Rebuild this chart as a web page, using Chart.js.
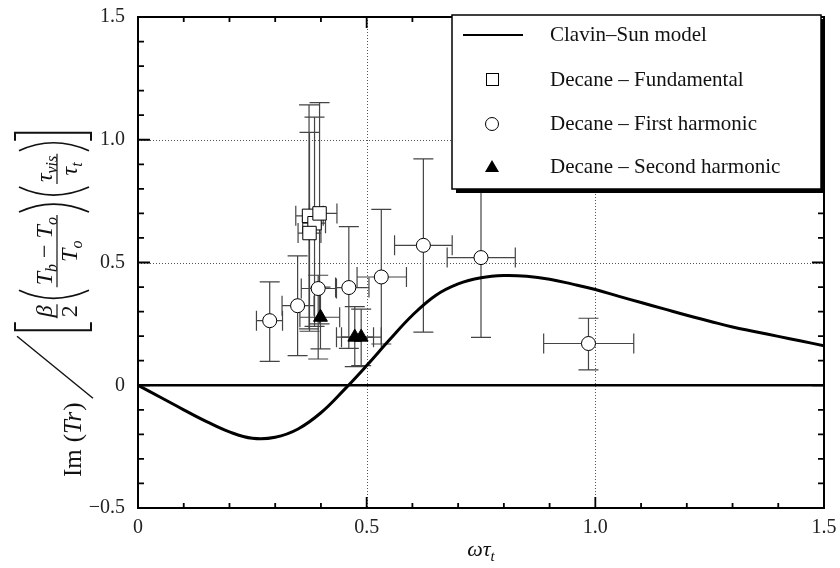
<!DOCTYPE html>
<html><head><meta charset="utf-8">
<script src="https://cdn.jsdelivr.net/npm/chart.js@4.4.1/dist/chart.umd.min.js"></script>
<style>html,body{margin:0;padding:0;background:#fff}</style>
</head><body>
<canvas id="c" width="840" height="568"></canvas>
<script>
// ---- Data ----
const xTickLabels = ['0', '0.5', '1.0', '1.5'];
const yTickLabels = ['\u22120.5', '0', '0.5', '1.0', '1.5'];

const curveX = [0, 0.05, 0.1, 0.15, 0.2, 0.25, 0.3, 0.35, 0.4, 0.45, 0.5, 0.55, 0.6, 0.65, 0.7, 0.75, 0.8, 0.85, 0.9, 0.95, 1.0, 1.05, 1.1, 1.15, 1.2, 1.25, 1.3, 1.35, 1.4, 1.45, 1.5];
const curveY = [0, -0.05, -0.10, -0.148, -0.19, -0.216, -0.212, -0.178, -0.112, -0.02, 0.08, 0.185, 0.285, 0.365, 0.413, 0.438, 0.447, 0.444, 0.432, 0.412, 0.39, 0.363, 0.337, 0.311, 0.285, 0.261, 0.237, 0.218, 0.199, 0.18, 0.161];

const zeroX = [0, 1.5];
const zeroY = [0, 0];

const fundX   = [0.374, 0.386, 0.397, 0.375];
const fundY   = [0.690, 0.660, 0.700, 0.620];
const fundXLo = [0.345, 0.360, 0.375, 0.350];
const fundXHi = [0.405, 0.410, 0.435, 0.400];
const fundYLo = [0.230, 0.240, 0.250, 0.220];
const fundYHi = [1.142, 1.092, 1.151, 1.030];

const firstX   = [0.288, 0.349, 0.394, 0.461, 0.532, 0.624, 0.750, 0.985];
const firstY   = [0.263, 0.324, 0.394, 0.398, 0.441, 0.570, 0.520, 0.170];
const firstXLo = [0.259, 0.315, 0.357, 0.432, 0.479, 0.561, 0.676, 0.887];
const firstXHi = [0.316, 0.385, 0.434, 0.505, 0.587, 0.687, 0.825, 1.084];
const firstYLo = [0.097, 0.121, 0.107, 0.150, 0.168, 0.216, 0.195, 0.063];
const firstYHi = [0.421, 0.527, 0.448, 0.646, 0.716, 0.922, 0.845, 0.273];

const secondX   = [0.399, 0.474, 0.488];
const secondY   = [0.277, 0.196, 0.196];
const secondXLo = [0.354, 0.434, 0.445];
const secondXHi = [0.441, 0.515, 0.532];
const secondYLo = [0.148, 0.076, 0.080];
const secondYHi = [0.400, 0.320, 0.310];

const legendLabels = ['Clavin\u2013Sun model', 'Decane \u2013 Fundamental', 'Decane \u2013 First harmonic', 'Decane \u2013 Second harmonic'];

// ---- helpers ----
const pts = (xs, ys) => xs.map((x, i) => ({x, y: ys[i]}));
const errSets = [
  [fundX, fundY, fundXLo, fundXHi, fundYLo, fundYHi],
  [firstX, firstY, firstXLo, firstXHi, firstYLo, firstYHi],
  [secondX, secondY, secondXLo, secondXHi, secondYLo, secondYHi]
];
const SERIF = '"Liberation Serif", "DejaVu Serif", serif';

const gridPlugin = {
  id: 'gridErr',
  beforeDatasetsDraw(chart) {
    const {ctx, chartArea: ca, scales: {x, y}} = chart;
    ctx.save();
    ctx.strokeStyle = '#555'; ctx.lineWidth = 1; ctx.setLineDash([1, 2]);
    [0.5, 1.0].forEach(v => {
      const px = Math.round(x.getPixelForValue(v)) + 0.5;
      ctx.beginPath(); ctx.moveTo(px, ca.top); ctx.lineTo(px, ca.bottom); ctx.stroke();
      const py = Math.round(y.getPixelForValue(v)) + 0.5;
      ctx.beginPath(); ctx.moveTo(ca.left, py); ctx.lineTo(ca.right, py); ctx.stroke();
    });
    ctx.setLineDash([]);
    ctx.strokeStyle = '#444'; ctx.lineWidth = 1.2;
    const cap = 10;
    errSets.forEach(([xs, ys, xl, xh, yl, yh]) => {
      xs.forEach((xv, i) => {
        const px = x.getPixelForValue(xv), py = y.getPixelForValue(ys[i]);
        const x1 = x.getPixelForValue(xl[i]), x2 = x.getPixelForValue(xh[i]);
        const y1 = y.getPixelForValue(yl[i]), y2 = y.getPixelForValue(yh[i]);
        ctx.beginPath();
        ctx.moveTo(px, y1); ctx.lineTo(px, y2);
        ctx.moveTo(px - cap, y1); ctx.lineTo(px + cap, y1);
        ctx.moveTo(px - cap, y2); ctx.lineTo(px + cap, y2);
        ctx.moveTo(x1, py); ctx.lineTo(x2, py);
        ctx.moveTo(x1, py - cap); ctx.lineTo(x1, py + cap);
        ctx.moveTo(x2, py - cap); ctx.lineTo(x2, py + cap);
        ctx.stroke();
      });
    });
    ctx.restore();
  },
  afterDatasetsDraw(chart) {
    const {ctx, chartArea: ca, scales: {x, y}} = chart;
    ctx.save();
    ctx.strokeStyle = '#000'; ctx.lineWidth = 2;
    ctx.strokeRect(ca.left, ca.top, ca.right - ca.left, ca.bottom - ca.top);
    ctx.lineWidth = 1.8;
    ctx.beginPath();
    for (let k = 0; k <= 15; k++) {
      const v = k / 10;
      const major = k % 5 === 0;
      const L = major ? 11 : 5;
      const px = x.getPixelForValue(v);
      ctx.moveTo(px, ca.bottom); ctx.lineTo(px, ca.bottom - L);
      ctx.moveTo(px, ca.top); ctx.lineTo(px, ca.top + L);
    }
    for (let k = -5; k <= 15; k++) {
      const v = k / 10;
      const major = ((k % 5) + 5) % 5 === 0;
      const L = major ? 12 : 6;
      const py = y.getPixelForValue(v);
      ctx.moveTo(ca.left, py); ctx.lineTo(ca.left + L, py);
      ctx.moveTo(ca.right, py); ctx.lineTo(ca.right - L, py);
    }
    ctx.stroke();
    ctx.restore();
  },
  afterDraw(chart) {
    const {ctx} = chart;
    ctx.save();
    const L = 452, T = 15, R = 821, B = 189;
    ctx.fillStyle = '#000';
    ctx.fillRect(L + 4, T + 4, R - L, B - T);
    ctx.fillStyle = '#fff';
    ctx.fillRect(L, T, R - L, B - T);
    ctx.strokeStyle = '#000'; ctx.lineWidth = 1.5;
    ctx.strokeRect(L, T, R - L, B - T);
    const rows = [35, 80, 124, 167];
    ctx.lineWidth = 2;
    ctx.beginPath(); ctx.moveTo(463, rows[0]); ctx.lineTo(523, rows[0]); ctx.stroke();
    ctx.lineWidth = 1;
    ctx.strokeRect(486.5, rows[1] - 6.5, 12, 12);
    ctx.beginPath(); ctx.arc(492, rows[2], 6.5, 0, Math.PI * 2); ctx.stroke();
    ctx.fillStyle = '#000';
    ctx.beginPath(); ctx.moveTo(492, rows[3] - 7); ctx.lineTo(499, rows[3] + 5); ctx.lineTo(485, rows[3] + 5); ctx.closePath(); ctx.fill();
    ctx.fillStyle = '#111';
    ctx.font = '21px ' + SERIF; ctx.textBaseline = 'middle'; ctx.textAlign = 'left';
    legendLabels.forEach((s, i) => ctx.fillText(s, 550, rows[i]));

    ctx.textBaseline = 'alphabetic';
    ctx.font = 'italic 22px ' + SERIF;
    const w1 = ctx.measureText('\u03c9\u03c4').width;
    ctx.font = 'italic 15px ' + SERIF;
    const w2 = ctx.measureText('t').width;
    let sx = 481 - (w1 + w2) / 2;
    ctx.font = 'italic 22px ' + SERIF;
    ctx.fillText('\u03c9\u03c4', sx, 556);
    ctx.font = 'italic 15px ' + SERIF;
    ctx.fillText('t', sx + w1, 561);

    drawYTitle(ctx);
    ctx.restore();
  }
};

function drawYTitle(ctx) {
  ctx.save();
  ctx.translate(81, 477);
  ctx.rotate(-Math.PI / 2);
  ctx.fillStyle = '#111'; ctx.strokeStyle = '#111';
  ctx.textBaseline = 'alphabetic'; ctx.textAlign = 'left';
  const R = s => s + 'px ' + SERIF, I = s => 'italic ' + s + 'px ' + SERIF;
  const txt = (s, f, a, b) => { ctx.font = f; ctx.fillText(s, a, b); return ctx.measureText(s).width; };
  const wid = (s, f) => { ctx.font = f; return ctx.measureText(s).width; };
  const FS = 25, FF = 24, FSUB = 16;
  let a = 0;
  a += txt('Im', R(FS), a, 0); a += 7;
  a += txt('(', R(FS), a, 0); a += txt('Tr', I(FS), a, 0) + 1; a += txt(')', R(FS), a, 0);
  ctx.lineWidth = 1.4;
  ctx.beginPath(); ctx.moveTo(a + 4, 12); ctx.lineTo(a + 66, -64); ctx.stroke();
  a += 72;
  const bt = -66, bb = 10;
  ctx.lineWidth = 2;
  ctx.beginPath(); ctx.moveTo(a + 8, bt); ctx.lineTo(a, bt); ctx.lineTo(a, bb); ctx.lineTo(a + 8, bb); ctx.stroke();
  a += 12;
  const bar = -24;
  const wb = wid('\u03b2', I(FF)), w2 = wid('2', R(FF));
  const wf = Math.max(wb, w2) + 2;
  txt('\u03b2', I(FF), a + (wf - wb) / 2, bar - 5);
  txt('2', R(FF), a + (wf - w2) / 2, bar + 20);
  ctx.lineWidth = 1.2;
  ctx.beginPath(); ctx.moveTo(a, bar); ctx.lineTo(a + wf, bar); ctx.stroke();
  a += wf + 4;
  const paren = (a0, dir) => {
    ctx.lineWidth = 1.7;
    ctx.beginPath();
    if (dir < 0) { ctx.moveTo(a0 + 10, bt + 4); ctx.quadraticCurveTo(a0 - 6, (bt + bb) / 2, a0 + 10, bb - 2); }
    else { ctx.moveTo(a0, bt + 4); ctx.quadraticCurveTo(a0 + 16, (bt + bb) / 2, a0, bb - 2); }
    ctx.stroke();
  };
  paren(a, -1); a += 13;
  const drawT = (a0, b0, sub) => { let w = txt('T', I(FF), a0, b0); w += txt(sub, I(FSUB), a0 + w, b0 + 5); return w; };
  const numW = wid('T', I(FF)) * 2 + wid('b', I(FSUB)) + wid('o', I(FSUB)) + wid(' \u2212 ', R(FF));
  const denW = wid('T', I(FF)) + wid('o', I(FSUB));
  const fw = numW + 4;
  let p = a + 2;
  p += drawT(p, bar - 5, 'b');
  p += txt(' \u2212 ', R(FF), p, bar - 5);
  drawT(p, bar - 5, 'o');
  drawT(a + (fw - denW) / 2, bar + 20, 'o');
  ctx.lineWidth = 1.2;
  ctx.beginPath(); ctx.moveTo(a, bar); ctx.lineTo(a + fw, bar); ctx.stroke();
  a += fw + 3;
  paren(a, 1); a += 15;
  paren(a, -1); a += 13;
  const wtv = wid('\u03c4', I(FF)) + wid('vis', I(FSUB));
  const wtt = wid('\u03c4', I(FF)) + wid('t', I(FSUB));
  const fw2 = Math.max(wtv, wtt) + 4;
  let q = a + (fw2 - wtv) / 2;
  q += txt('\u03c4', I(FF), q, bar - 5); txt('vis', I(FSUB), q, bar);
  q = a + (fw2 - wtt) / 2;
  q += txt('\u03c4', I(FF), q, bar + 20); txt('t', I(FSUB), q, bar + 25);
  ctx.lineWidth = 1.2;
  ctx.beginPath(); ctx.moveTo(a, bar); ctx.lineTo(a + fw2, bar); ctx.stroke();
  a += fw2 + 3;
  paren(a, 1); a += 18;
  ctx.lineWidth = 2;
  ctx.beginPath(); ctx.moveTo(a - 8, bt); ctx.lineTo(a, bt); ctx.lineTo(a, bb); ctx.lineTo(a - 8, bb); ctx.stroke();
  ctx.restore();
}

new Chart(document.getElementById('c'), {
  type: 'scatter',
  data: {
    datasets: [
      {label: legendLabels[3], data: pts(secondX, secondY), pointStyle: 'triangle', pointRadius: 8, pointBackgroundColor: '#000', pointBorderColor: '#000', pointBorderWidth: 1},
      {label: legendLabels[2], data: pts(firstX, firstY), pointStyle: 'circle', pointRadius: 7, pointBackgroundColor: '#fff', pointBorderColor: '#000', pointBorderWidth: 1},
      {label: legendLabels[1], data: pts(fundX, fundY), pointStyle: 'rect', pointRadius: 9.5, pointBackgroundColor: '#fff', pointBorderColor: '#000', pointBorderWidth: 1},
      {label: legendLabels[0], data: pts(curveX, curveY), showLine: true, borderColor: '#000', borderWidth: 3, pointRadius: 0, tension: 0.4},
      {label: 'zero', data: pts(zeroX, zeroY), showLine: true, borderColor: '#000', borderWidth: 2.5, pointRadius: 0}
    ]
  },
  options: {
    responsive: false, animation: false, devicePixelRatio: 1,
    layout: {padding: {left: 0, right: 16, top: 15, bottom: 0}},
    plugins: {legend: {display: false}, tooltip: {enabled: false}},
    scales: {
      x: {
        type: 'linear', min: 0, max: 1.5,
        grid: {display: false}, border: {display: false},
        ticks: {stepSize: 0.5, color: '#222', font: {family: SERIF, size: 20}, padding: 0,
          callback: (v) => { const i = Math.round(v * 2); return Math.abs(v * 2 - i) < 1e-6 ? xTickLabels[i] : ''; }},
        afterFit: s => { s.height = 60; }
      },
      y: {
        type: 'linear', min: -0.5, max: 1.5,
        grid: {display: false}, border: {display: false},
        ticks: {stepSize: 0.5, color: '#222', font: {family: SERIF, size: 20}, padding: 5,
          callback: (v) => { const i = Math.round(v * 2) + 1; return Math.abs(v * 2 + 1 - i) < 1e-6 ? yTickLabels[i] : ''; }},
        afterFit: s => { s.width = 138; }
      }
    }
  },
  plugins: [gridPlugin]
});
</script>
</body></html>
